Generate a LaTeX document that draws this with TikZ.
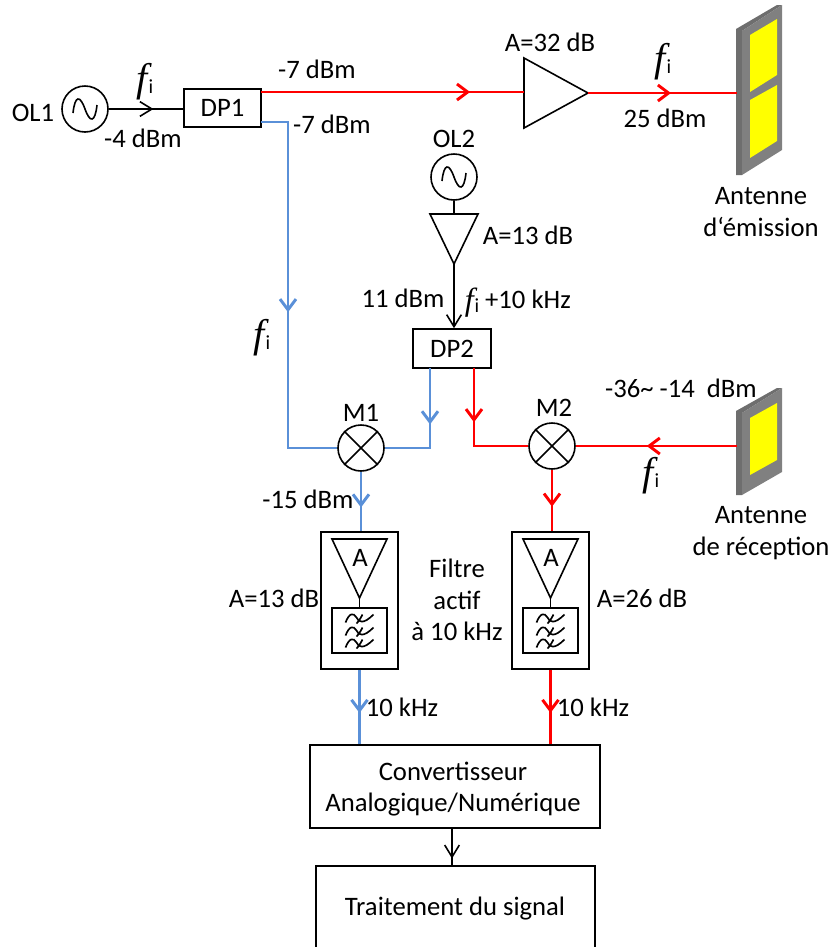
\documentclass[tikz,border=0pt]{standalone}
\usepackage{fontspec}
\setmainfont{Carlito}
\newfontfamily\mathf{Liberation Serif}
\usetikzlibrary{shapes.geometric,arrows.meta,decorations.markings}
\definecolor{sigblue}{HTML}{5A90D8}
\definecolor{sigred}{HTML}{FF0000}
\definecolor{antdark}{HTML}{6E6E6E}
\definecolor{antgrey}{HTML}{808080}
\definecolor{patch}{HTML}{FFFF00}
\newcommand{\fsym}[1]{{\mathf\itshape\fontsize{#1}{#1}\selectfont f}\kern0.6pt\raisebox{-0.15em}{\fontsize{15}{15}\selectfont i}}
\tikzset{
  txt/.style={inner sep=0pt,font=\fontsize{20}{23.5}\selectfont,align=center},
  box/.style={draw=black,line width=1.2pt,fill=white,inner sep=0pt,font=\fontsize{20}{23.5}\selectfont,align=center},
  osc/.style={draw=black,line width=1.2pt,circle,minimum size=34.5pt,inner sep=0pt,fill=white},
  amp/.style={draw=black,line width=1.2pt,isosceles triangle,isosceles triangle stretches,inner sep=0pt,outer sep=0pt,fill=white},
  wire/.style={line width=1.2pt,black},
  sig/.style={line width=2.2pt},
  tip/.style={postaction={decorate,decoration={markings,mark=at position #1 with {\arrow{Straight Barb[length=9pt,width=11pt,line width=1.2pt]}}}}},
  tipb/.style={postaction={decorate,decoration={markings,mark=at position #1 with {\arrow{Straight Barb[length=8pt,width=12pt,line width=2.2pt]}}}}},
  wave/.style={line width=1.25pt,black}
}
\newcommand{\filterwaves}[1]{%
  \foreach \dy in {-12,1,13}{%
    \draw[wave,shift={(#1)},shift={(0,\dy)}] (-14,4) .. controls (-10,-6) and (-6,-6) .. (-3,-1) .. controls (-1,4) and (4,6) .. (14,-4);
    \draw[wave,shift={(#1)},shift={(0,\dy)}] (-3,5) .. controls (-1,3) and (1,0) .. (3,-4);
  }}
\begin{document}
\begin{tikzpicture}[x=0.75pt,y=-0.75pt]
\useasboundingbox (0,0) rectangle (831,947);
% boxes
\node[osc] (ol1) at (85,109) {};
\node[osc] (ol2) at (454,177) {};
\node[osc] (m1) at (361,448) {};
\node[osc] (m2) at (552,446) {};
\node[box,minimum width=57.75pt,minimum height=28.5pt] (dp1) at (222.5,108) {DP1};
\node[box,minimum width=58.5pt,minimum height=29.25pt] (dp2) at (452,348.5) {DP2};
\node[box,minimum width=57.75pt,minimum height=102.75pt] (f1) at (359.5,600.5) {};
\node[box,minimum width=57.75pt,minimum height=102.75pt] (f2) at (550.5,600.5) {};
\node[box,minimum width=217.5pt,minimum height=62.25pt] (conv) at (455,786.5) {};
\node[txt] (convlab) at (453,789) {Convertisseur\\Analogique/Numérique};
\draw[line width=1.2pt] (316,950) -- (316,866) -- (595,866) -- (595,950);
\coordinate (trt) at (452,866);
\node[txt] (trtlab) at (455,909) {Traitement du signal};
% amplifiers
\node[amp,anchor=apex,minimum width=52.5pt,minimum height=48pt] (a1) at (588,93) {};
\node[amp,anchor=apex,shape border rotate=-90,minimum width=36pt,minimum height=37.5pt] (a2) at (454,264) {};
\node[amp,anchor=apex,shape border rotate=-90,minimum width=41.25pt,minimum height=44.25pt] (a3) at (359.5,598) {};
\node[amp,anchor=apex,shape border rotate=-90,minimum width=41.25pt,minimum height=44.25pt] (a4) at (550.5,598) {};
\node[txt] (a3lab) at (360,558) {A};
\node[txt] (a4lab) at (551,558) {A};
\node[box,minimum width=41.25pt,minimum height=33.75pt] (lp1) at (359.5,630.5) {};
\node[box,minimum width=41.25pt,minimum height=33.75pt] (lp2) at (550.5,630.5) {};
\filterwaves{lp1.center}
\filterwaves{lp2.center}
% oscillator sines
\foreach \n in {ol1,ol2}{
  \draw[line width=1.2pt,shift={(\n.center)}] (-12,4) .. controls (-10,-14) and (-5,-14) .. (0,0) .. controls (5,14) and (10,14) .. (12,-4);
}
% mixers crosses
\foreach \n in {m1,m2}{
  \draw[line width=1.2pt] (\n.45) -- (\n.225) (\n.135) -- (\n.315);
}
% antennas
\fill[antdark] (736,29) -- (777,5) -- (782,5) -- (742,31) -- (742,175) -- (736,175) -- cycle;
\fill[antgrey] (742,31) -- (782,5) -- (782,150) -- (742,175) -- cycle;
\fill[patch] (750,35) -- (777,19) -- (777,75) -- (750,92) -- cycle;
\fill[patch] (750,100) -- (777,85) -- (777,141) -- (750,158) -- cycle;
\coordinate (antTx) at (737,93);
\fill[antdark] (736,411) -- (777,388) -- (782,388) -- (742,413) -- (742,495) -- (736,495) -- cycle;
\fill[antgrey] (742,413) -- (782,388) -- (782,472) -- (742,495) -- cycle;
\fill[patch] (750,418) -- (777,403) -- (777,460) -- (750,475) -- cycle;
\coordinate (antRx) at (737,446);
% connectors
\draw[wire,tip=.6] (ol1.east) -- (dp1.west |- ol1.east);
\coordinate (dp1r) at (261,92);
\coordinate (dp1b) at (261,122);
\coordinate (m1bend) at (288,448);
\coordinate (dp1bbend) at (288,122);
\draw[sig,sigred,tipb=.795] (dp1r) -- (a1.west |- dp1r);
\draw[sig,sigred,tipb=.557] (a1.apex) -- (antTx);
\draw[sig,sigblue,tipb=.54] (dp1b) -- (dp1bbend) -- (m1bend) -- (m1.west);
\draw[wire] (ol2.south) -- (a2.north);
\draw[wire,-{Straight Barb[length=9pt,width=11pt,line width=1.2pt]}] (a2.apex) -- (dp2.north -| a2.apex);
\coordinate (dp2l) at (430,368);
\coordinate (dp2r) at (474,368);
\coordinate (bl) at (430,448);
\coordinate (br) at (474,446);
\draw[sig,sigblue,tipb=.45] (dp2l) -- (bl) -- (m1.east);
\draw[sig,sigred,tipb=.41] (dp2r) -- (br) -- (m2.west);
\draw[sig,sigred,tipb=.56] (antRx) -- (m2.east);
\draw[sig,sigblue,tipb=.6] (m1.south) -- (m1.south |- f1.north);
\draw[sig,sigred,tipb=.6] (m2.south) -- (m2.south |- f2.north);
\draw[wire] (a3.apex) -- (lp1.north);
\draw[wire] (a4.apex) -- (lp2.north);
\draw[sig,sigblue,tipb=.58] (f1.south) -- (conv.north -| f1.south);
\draw[sig,sigred,tipb=.58] (f2.south) -- (conv.north -| f2.south);
\draw[wire,tip=.8] (conv.south -| trt) -- (trt);
% labels
\node[txt] (l1) at (33,113) {OL1};
\node[txt] (l2) at (143,138) {-4 dBm};
\node[txt] (l3) at (317,69) {-7 dBm};
\node[txt] (l4) at (332,124) {-7 dBm};
\node[txt] (l5) at (550,42) {A=32 dB};
\node[txt] (l6) at (665,118) {25 dBm};
\node[txt] (l7) at (454,139) {OL2};
\node[txt] (l8) at (528,235) {A=13 dB};
\node[txt] (l9) at (403,298) {11 dBm};
\node[txt] (l10) at (528,299) {+10 kHz};
\node[txt] (l11) at (681,388) {-36\textasciitilde\ -14\ \ dBm};
\node[txt] (l12) at (361,413) {M1};
\node[txt] (l13) at (554,408) {M2};
\node[txt] (l14) at (308,499) {-15 dBm};
\node[txt] (l15) at (274,598) {A=13 dB};
\node[txt] (l16) at (642,598) {A=26 dB};
\node[txt] (l17) at (457,600) {Filtre\\actif\\à 10 kHz};
\node[txt] (l18) at (402,707) {10 kHz};
\node[txt] (l19) at (593,707) {10 kHz};
\node[txt] (l20) at (761,212) {Antenne\\d‘émission};
\node[txt] (l21) at (761,533) {Antenne\\de réception};
\node[inner sep=0pt] (f1a) at (145,82) {\fsym{30}};
\node[inner sep=0pt] (f2a) at (663,62) {\fsym{30}};
\node[inner sep=0pt] (f3a) at (262,338) {\fsym{30}};
\node[inner sep=0pt] (f4a) at (472,303) {\fsym{24}};
\node[inner sep=0pt] (f5a) at (651,476) {\fsym{30}};
\end{tikzpicture}
\end{document}
